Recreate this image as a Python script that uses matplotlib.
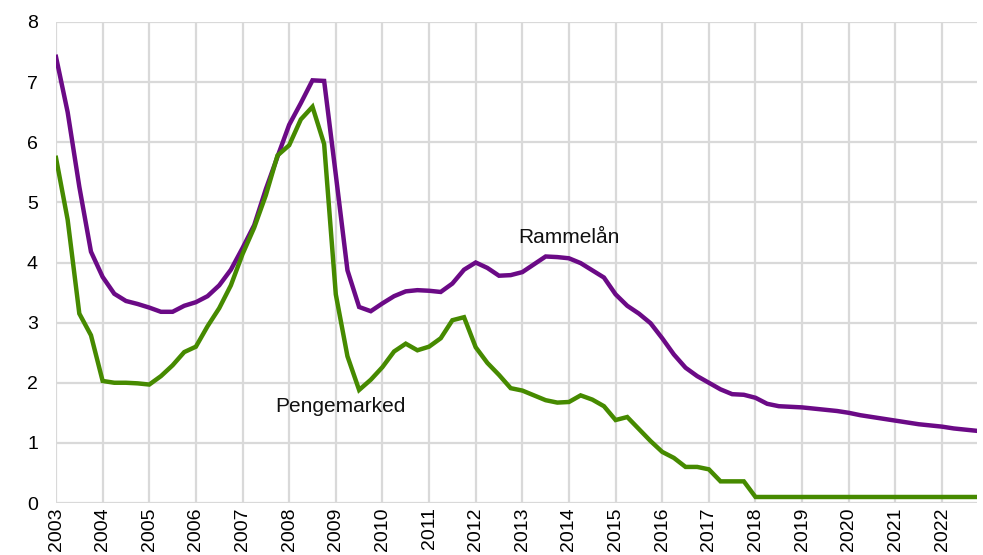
import numpy as np
import matplotlib
matplotlib.use("Agg")
import matplotlib.pyplot as plt

plt.rcParams['font.family'] = ['Liberation Sans', 'DejaVu Sans']

# Quarterly observations, 2003Q1 .. 2022Q4
start_year = 2003
rammelan = [
    7.42, 6.50, 5.26, 4.18,
    3.76, 3.48, 3.36, 3.31,
    3.25, 3.18, 3.18, 3.28,
    3.34, 3.44, 3.62, 3.88,
    4.24, 4.62, 5.22, 5.76,
    6.29, 6.65, 7.03, 7.02,
    5.46, 3.87, 3.26, 3.19,
    3.32, 3.44, 3.52, 3.54,
    3.53, 3.51, 3.65, 3.88,
    4.00, 3.91, 3.78, 3.79,
    3.84, 3.97, 4.10, 4.09,
    4.07, 3.99, 3.87, 3.75,
    3.47, 3.28, 3.15, 2.99,
    2.74, 2.47, 2.25, 2.11,
    2.00, 1.89, 1.81, 1.80,
    1.75, 1.65, 1.61, 1.60,
    1.59, 1.57, 1.55, 1.53,
    1.50, 1.46, 1.43, 1.40,
    1.37, 1.34, 1.31, 1.29,
    1.27, 1.24, 1.22, 1.20,
]
pengemarked = [
    5.74, 4.71, 3.15, 2.79,
    2.03, 2.00, 2.00, 1.99,
    1.97, 2.11, 2.29, 2.51,
    2.60, 2.94, 3.24, 3.62,
    4.14, 4.58, 5.12, 5.78,
    5.95, 6.38, 6.59, 5.97,
    3.47, 2.44, 1.88, 2.05,
    2.26, 2.52, 2.65, 2.54,
    2.60, 2.74, 3.04, 3.09,
    2.59, 2.33, 2.13, 1.91,
    1.87, 1.79, 1.71, 1.67,
    1.68, 1.79, 1.72, 1.61,
    1.38, 1.43, 1.23, 1.03,
    0.85, 0.75, 0.60, 0.60,
    0.56, 0.36, 0.36, 0.36,
    0.10, 0.10, 0.10, 0.10,
    0.10, 0.10, 0.10, 0.10,
    0.10, 0.10, 0.10, 0.10,
    0.10, 0.10, 0.10, 0.10,
    0.10, 0.10, 0.10, 0.10,
]
year_ticks = list(range(2003, 2023))
y_ticks = list(range(0, 9))

x = start_year + np.arange(len(rammelan)) * 0.25

fig = plt.figure(figsize=(9.83, 5.55), dpi=100)
ax = fig.add_axes([56/983, 52/555, (977-56)/983, (503-22)/555])

ax.plot(x, rammelan, color='#6B0A86', lw=3.2, solid_joinstyle='miter', zorder=3)
ax.plot(x, pengemarked, color='#468A00', lw=3.2, solid_joinstyle='miter', zorder=3)

ax.set_xlim(2003, 2022.75)
ax.set_ylim(0, 8)
ax.set_xticks(year_ticks)
ax.set_xticklabels([str(y) for y in year_ticks], rotation=90, fontsize=14)
ax.set_yticks(y_ticks)
ax.set_yticklabels([str(v) for v in y_ticks], fontsize=14)
ax.tick_params(length=0)
ax.tick_params(axis='y', pad=13)
ax.tick_params(axis='x', pad=3)
ax.grid(True, color='#d9d9d9', lw=1.6)
ax.set_axisbelow(True)
for s in ax.spines.values():
    s.set_visible(False)

ax.text(2014.0, 4.32, 'Rammelån', ha='center', va='baseline', fontsize=15, color='#111111')
ax.text(2009.11, 1.52, 'Pengemarked', ha='center', va='baseline', fontsize=15, color='#111111')

fig.savefig('out.png', dpi=100)
